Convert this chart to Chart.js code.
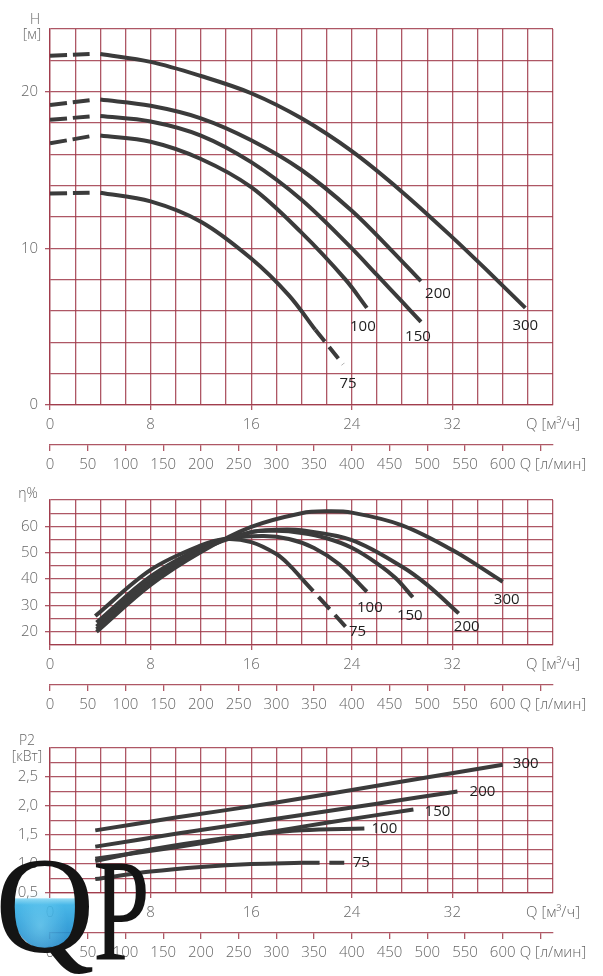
<!DOCTYPE html>
<html>
<head>
<meta charset="utf-8">
<script src="https://cdn.jsdelivr.net/npm/chart.js@4.4.1/dist/chart.umd.min.js"></script>
<style>
body{margin:0;background:#fff;width:603px;height:976px;position:relative;overflow:hidden;font-family:"Open Sans",sans-serif;}
canvas{position:absolute;left:0;}
.t{position:absolute;width:60px;text-align:center;color:#666;font-size:14px;line-height:15px;font-weight:300;}
#logo{position:absolute;left:0;top:0;width:200px;height:976px;pointer-events:none;}
#water{position:absolute;left:12px;top:868px;width:71px;height:82px;border-radius:50%;opacity:0.9;
 background:
  radial-gradient(ellipse at 40% 70%,rgba(120,215,245,0.55) 0%,rgba(120,215,245,0) 45%),
  linear-gradient(to bottom,rgba(255,255,255,0) 0%,rgba(255,255,255,0) 36%,#7fd3f2 38%,#35b0e6 45%,#2398d6 70%,#1c7fc2 100%);}
.lg{position:absolute;font-family:"Liberation Serif",serif;color:#141414;transform-origin:0 0;}
</style>
</head>
<body>
<canvas id="cH" width="603" height="480" style="top:0"></canvas>
<canvas id="cE" width="603" height="240" style="top:480px"></canvas>
<canvas id="cP" width="603" height="243" style="top:725px"></canvas>

<div class="t" style="left:5px;top:11px">H</div>
<div class="t" style="left:2px;top:26px">[м]</div>
<div class="t" style="left:-2px;top:485px">η%</div>
<div class="t" style="left:-3px;top:732px">P2</div>
<div class="t" style="left:-3px;top:748px">[кВт]</div>

<div id="logo">
  <div id="water"></div>
  <span class="lg" style="left:-5px;top:837px;font-size:138px;line-height:138px;">Q</span>
  <span class="lg" style="left:93px;top:838px;font-size:146px;line-height:146px;transform:scaleX(0.7);">P</span>
</div>

<script>
// flow, m3/h ; pump models
var models = ['75', '100', '150', '200', '300'];

// ---- head H [m] ----
var qH75 = [4, 8, 12, 16, 19, 21.1];
var h75 = [13.55, 13.0, 11.7, 9.35, 7.0, 4.8];
var qH75d = [21.1, 23.3];
var h75d = [4.8, 2.6];
var qH100 = [4, 8, 12, 16, 20, 23.5, 25.2];
var h100 = [17.2, 16.8, 15.7, 13.9, 11.0, 8.0, 6.2];
var qH150 = [4, 8, 12, 16, 20, 24, 26, 28, 29.5];
var h150 = [18.45, 18.1, 17.2, 15.5, 13.1, 10.0, 8.3, 6.6, 5.3];
var qH200 = [4, 8, 12, 16, 20, 24, 27, 29.5];
var h200 = [19.5, 19.1, 18.3, 16.9, 15.0, 12.4, 10.0, 7.9];
var qH300 = [4, 8, 12, 16, 20, 24, 28, 32, 35, 37.8];
var h300 = [22.4, 21.9, 21.0, 19.9, 18.3, 16.2, 13.6, 10.7, 8.4, 6.2];
// dashed start of each head curve (Q 0 .. 3.15)
var qStart = [0, 3.15];
var hStart75 = [13.5, 13.55];
var hStart100 = [16.7, 17.15];
var hStart150 = [18.2, 18.42];
var hStart200 = [19.15, 19.45];
var hStart300 = [22.3, 22.4];

// ---- efficiency eta [%] ----
var qE75 = [3.6, 8, 12, 14, 16, 18, 19, 20];
var e75 = [26, 43.5, 52.8, 55.2, 54.0, 49.5, 45.5, 40.3];
var qE75d = [20, 23.5];
var e75d = [40.3, 22];
var qE100 = [3.7, 8, 12, 14, 17, 19, 21, 23, 25.2];
var e100 = [23.5, 41, 52, 55.3, 56.3, 55.2, 51.8, 45.6, 35.2];
var qE150 = [3.7, 8, 12, 16, 18, 20, 22, 24, 26, 27.5, 28.85];
var e150 = [22, 40, 51.5, 57.8, 58.3, 57.5, 55.5, 51.9, 46.0, 40.3, 33.1];
var qE200 = [3.7, 8, 12, 16, 18, 20, 24, 28, 30, 32.5];
var e200 = [21, 39, 51, 57.8, 58.7, 58.5, 54.8, 44.7, 37.8, 27];
var qE300 = [3.7, 8, 12, 16, 20, 22, 24, 28, 32, 36];
var e300 = [20, 37.8, 50.3, 59.8, 65, 65.7, 65.2, 60.4, 51, 39];

// ---- power P2 [kW] ----
var qP75 = [3.6, 8, 12, 16, 20];
var p75 = [0.74, 0.87, 0.95, 1.0, 1.02];
var qP75d = [20, 23.4];
var p75d = [1.02, 1.02];
var qP100 = [3.6, 8, 12, 16, 20, 25];
var p100 = [1.05, 1.25, 1.39, 1.5, 1.58, 1.61];
var qP150 = [3.6, 10, 16, 22, 28.9];
var p150 = [1.09, 1.29, 1.5, 1.71, 1.94];
var qP200 = [3.6, 10, 18, 26, 32.4];
var p200 = [1.3, 1.52, 1.78, 2.04, 2.25];
var qP300 = [3.6, 10, 18, 26, 36];
var p300 = [1.58, 1.8, 2.06, 2.35, 2.71];

var Q_MAX = 40;
var LMIN_MAX = Q_MAX * 1000 / 60;

var LINE = '#3b3b3b';
var GRID = 'rgba(160,58,74,0.85)';
var NONE = 'rgba(0,0,0,0)';
var TICK_FONT = {family: '"Open Sans", sans-serif', size: 15, weight: '300'};

function pts(xs, ys) {
    return xs.map(function(x, i) { return {x: x, y: ys[i]}; });
}

function curve(xs, ys, dash) {
    return {
        data: pts(xs, ys),
        borderColor: LINE,
        borderWidth: 4,
        borderDash: dash || [],
        pointRadius: 0,
        fill: false,
        tension: 0.35
    };
}

function stepTicks(min, max, step) {
    var t = [];
    for (var v = min; v <= max + 1e-9; v += step) t.push({value: Math.round(v * 1000) / 1000});
    return t;
}

function yAxis(min, max, step, isLabel, fmt) {
    return {
        type: 'linear', min: min, max: max,
        afterBuildTicks: function(s) { s.ticks = stepTicks(min, max, step); },
        afterFit: function(s) { s.width = 50; },
        grid: {
            color: GRID, lineWidth: 1.3, tickLength: 5,
            tickColor: function(c) { return isLabel(c.tick.value) ? GRID : NONE; }
        },
        border: {color: GRID, width: 1.3},
        ticks: {
            autoSkip: false, padding: 7, color: '#666', font: TICK_FONT,
            callback: function(v) { return isLabel(v) ? fmt(v) : ''; }
        }
    };
}

function xAxes() {
    return {
        x: {
            type: 'linear', position: 'bottom', min: 0, max: Q_MAX,
            afterBuildTicks: function(s) { s.ticks = stepTicks(0, Q_MAX, 2); },
            afterFit: function(s) { s.height = 40; },
            grid: {
                color: GRID, lineWidth: 1.3, tickLength: 5,
                tickColor: function(c) { return (c.tick.value % 8 === 0 && c.tick.value < Q_MAX) ? GRID : NONE; }
            },
            border: {color: GRID, width: 1.3},
            ticks: {
                autoSkip: false, maxRotation: 0, padding: 6, color: '#666', font: TICK_FONT,
                callback: function(v) {
                    if (v === Q_MAX) return 'Q [м³/ч]';
                    return v % 8 === 0 ? String(v) : '';
                }
            }
        },
        x2: {
            type: 'linear', position: 'bottom', min: 0, max: LMIN_MAX,
            afterBuildTicks: function(s) {
                var t = stepTicks(0, 650, 50);
                t.push({value: LMIN_MAX});
                s.ticks = t;
            },
            afterFit: function(s) { s.height = 29; },
            grid: {
                drawOnChartArea: false, drawTicks: true, tickLength: 6, lineWidth: 1.3,
                color: function(c) { return c.tick && c.tick.value > 660 ? NONE : GRID; }
            },
            border: {display: true, color: GRID, width: 1.3},
            ticks: {
                autoSkip: false, maxRotation: 0, padding: 5, color: '#666', font: TICK_FONT,
                callback: function(v) {
                    if (v > 660) return 'Q [л/мин]';
                    return v <= 600 ? String(v) : '';
                }
            }
        }
    };
}

// writes the model name next to the end of each curve
var curveLabels = {
    id: 'curveLabels',
    afterDatasetsDraw: function(chart, args, opts) {
        var ctx = chart.ctx, xs = chart.scales.x, ys = chart.scales.y;
        ctx.save();
        ctx.font = '15px "Open Sans", sans-serif';
        ctx.fillStyle = '#1e1e1e';
        ctx.textAlign = 'center';
        ctx.textBaseline = 'middle';
        opts.items.forEach(function(it) {
            var px = xs.getPixelForValue(it.qs[it.qs.length - 1]) + it.dx;
            var py = ys.getPixelForValue(it.vs[it.vs.length - 1]) + it.dy;
            ctx.fillText(it.text, px, py);
        });
        ctx.restore();
    }
};

function makeChart(id, pad, datasets, y, labels) {
    var scales = xAxes();
    scales.y = y;
    return new Chart(document.getElementById(id), {
        type: 'line',
        data: {datasets: datasets},
        options: {
            responsive: false,
            animation: false,
            layout: {padding: pad},
            plugins: {legend: {display: false}, tooltip: {enabled: false}, curveLabels: {items: labels}},
            scales: scales
        },
        plugins: [curveLabels]
    });
}

var START_DASH = [17, 6];
var END_DASH = [15, 7];

makeChart('cH', {top: 29, right: 50, bottom: 6, left: 0}, [
    curve(qStart, hStart300, START_DASH), curve(qH300, h300),
    curve(qStart, hStart200, START_DASH), curve(qH200, h200),
    curve(qStart, hStart150, START_DASH), curve(qH150, h150),
    curve(qStart, hStart100, START_DASH), curve(qH100, h100),
    curve(qStart, hStart75, START_DASH), curve(qH75, h75),
    curve(qH75d, h75d, END_DASH)
], yAxis(0, 24, 2, function(v) { return v % 10 === 0; }, String), [
    {text: models[4], qs: qH300, vs: h300, dx: 0, dy: 18},
    {text: models[3], qs: qH200, vs: h200, dx: 17, dy: 13},
    {text: models[2], qs: qH150, vs: h150, dx: -3, dy: 15},
    {text: models[1], qs: qH100, vs: h100, dx: -4, dy: 19},
    {text: models[0], qs: qH75d, vs: h75d, dx: 5, dy: 19}
]);

makeChart('cE', {top: 20, right: 50, bottom: 6, left: 0}, [
    curve(qE300, e300), curve(qE200, e200), curve(qE150, e150),
    curve(qE100, e100), curve(qE75, e75), curve(qE75d, e75d, [17, 8])
], yAxis(15, 70, 5, function(v) { return v % 10 === 0 && v < 70; }, String), [
    {text: models[4], qs: qE300, vs: e300, dx: 4, dy: 18},
    {text: models[3], qs: qE200, vs: e200, dx: 8, dy: 13},
    {text: models[2], qs: qE150, vs: e150, dx: -3, dy: 18},
    {text: models[1], qs: qE100, vs: e100, dx: 3, dy: 16},
    {text: models[0], qs: qE75d, vs: e75d, dx: 12, dy: 5}
]);

makeChart('cP', {top: 23, right: 50, bottom: 6, left: 0}, [
    curve(qP300, p300), curve(qP200, p200), curve(qP150, p150),
    curve(qP100, p100), curve(qP75, p75), curve(qP75d, p75d, [18, 10])
], yAxis(0.5, 3, 0.25, function(v) { return (v * 2) % 1 === 0 && v < 3; },
    function(v) { return v.toFixed(1).replace('.', ','); }), [
    {text: models[4], qs: qP300, vs: p300, dx: 23, dy: -1},
    {text: models[3], qs: qP200, vs: p200, dx: 25, dy: 0},
    {text: models[2], qs: qP150, vs: p150, dx: 24, dy: 2},
    {text: models[1], qs: qP100, vs: p100, dx: 20, dy: 0},
    {text: models[0], qs: qP75d, vs: p75d, dx: 17, dy: 0}
]);
</script>
</body>
</html>
